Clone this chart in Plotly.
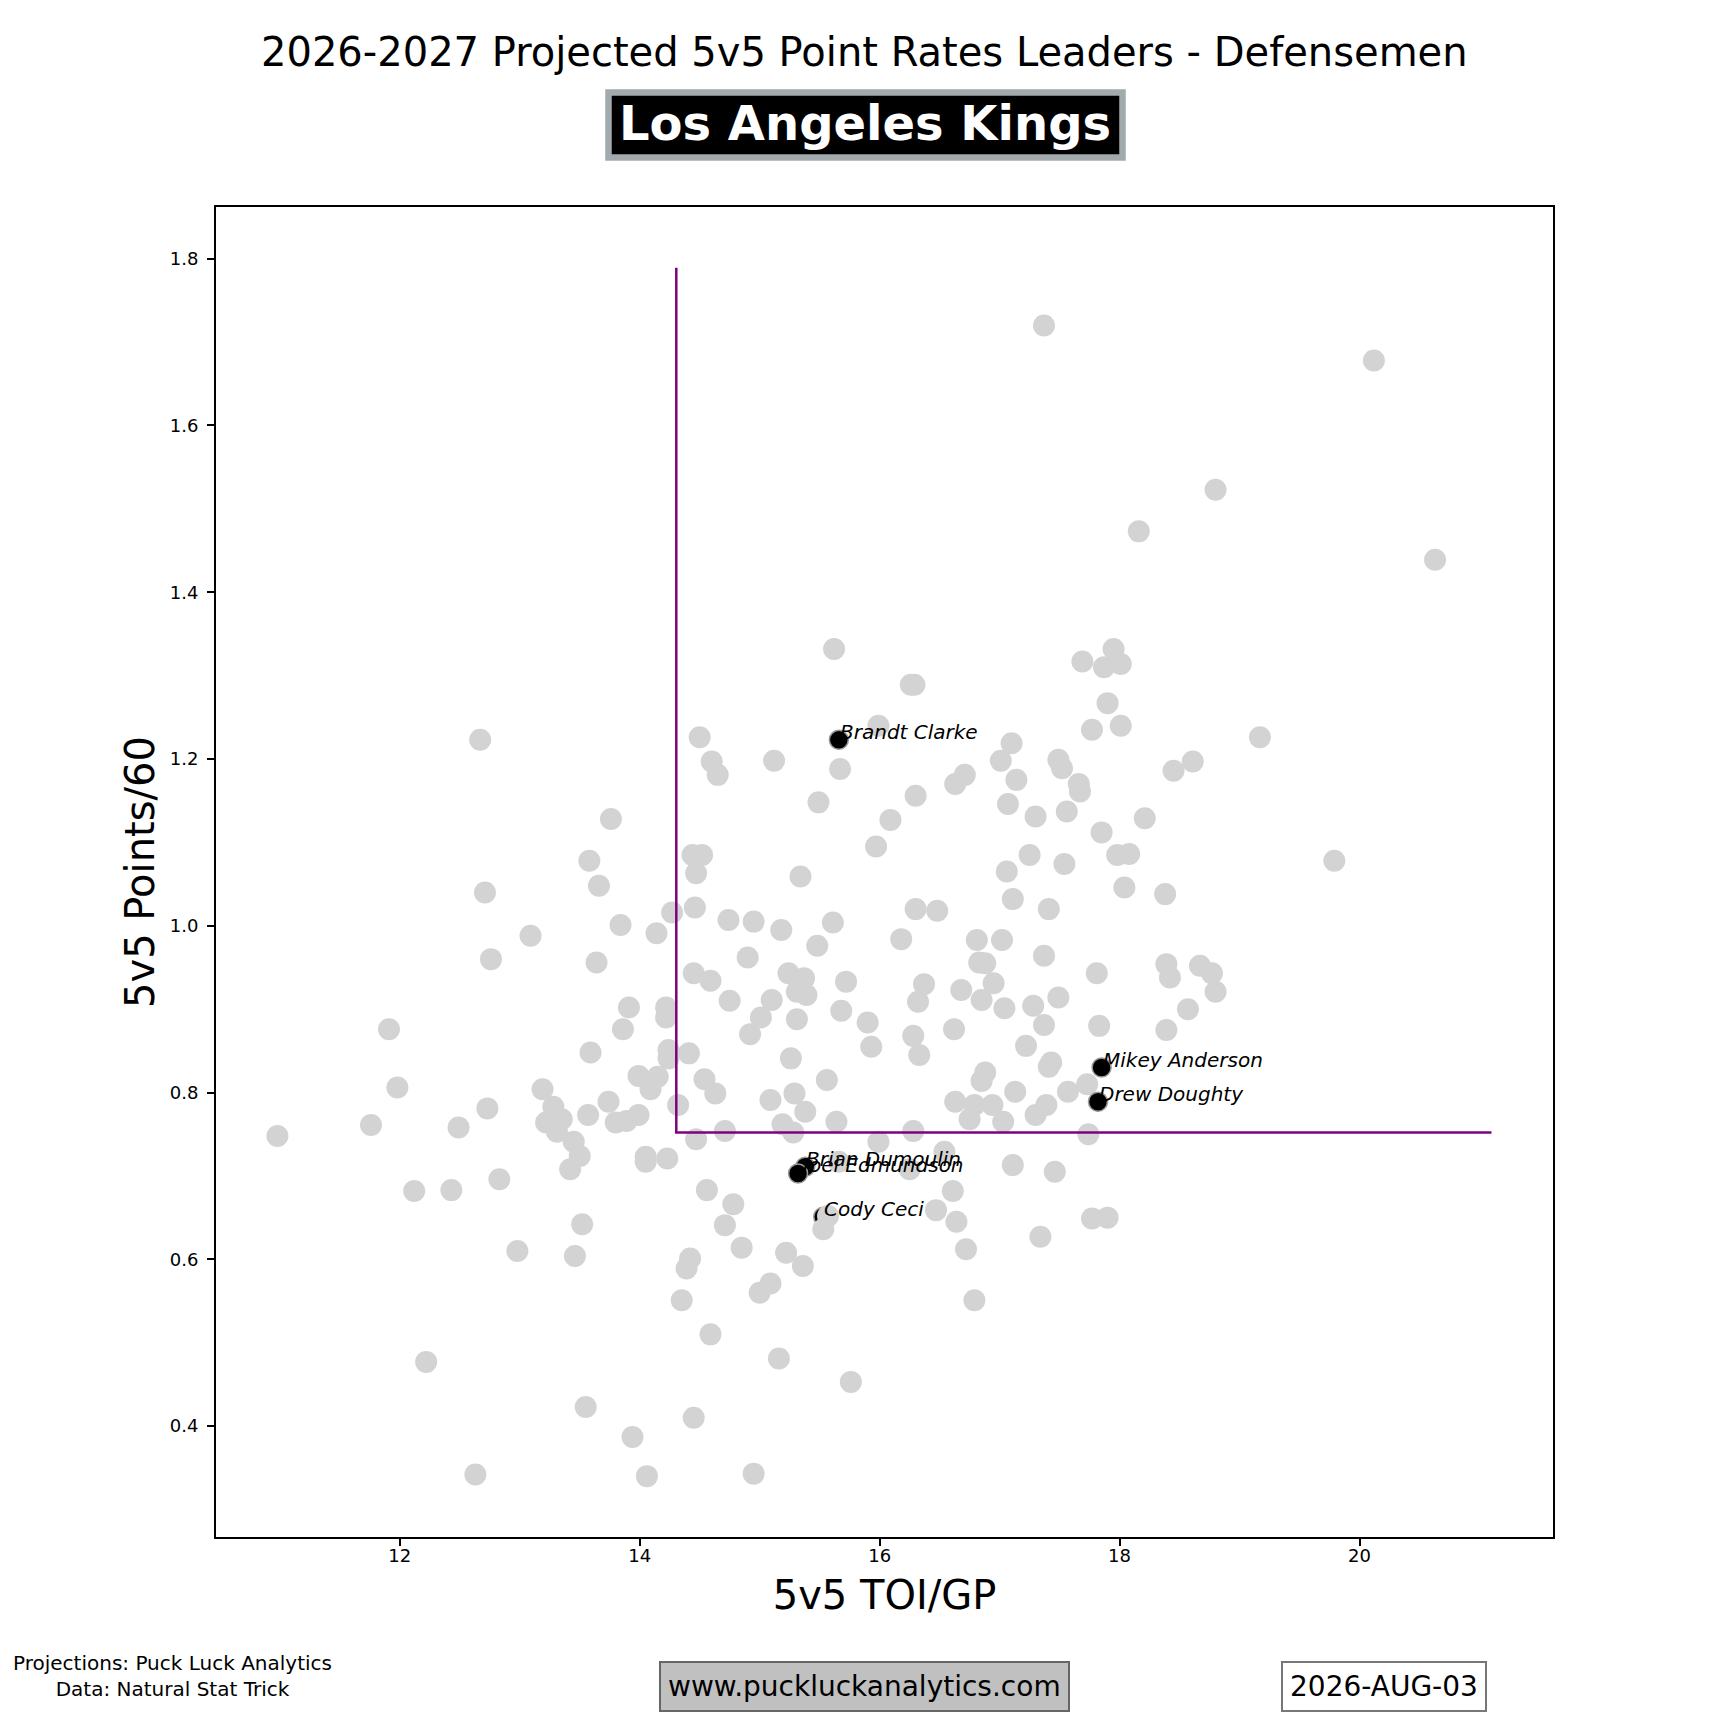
import plotly.graph_objects as go

# ---------------- data ----------------
league_toi = [10.98, 11.76, 11.91, 11.98, 12.12, 12.22, 12.43, 12.49, 12.63, 12.67, 12.71, 12.73, 12.76, 12.83,
              12.98, 13.09, 13.19, 13.22, 13.28, 13.31, 13.35, 13.42, 13.45, 13.46, 13.50, 13.52, 13.55, 13.57,
              13.58, 13.59, 13.64, 13.66, 13.74, 13.76, 13.80, 13.84, 13.86, 13.89, 13.91, 13.94, 13.99, 13.99,
              14.06, 14.05, 14.05, 14.09, 14.14, 14.15, 14.22, 14.22, 14.23, 14.24, 14.24, 14.27, 14.32, 14.35,
              14.39, 14.41, 14.42, 14.44, 14.45, 14.45, 14.46, 14.47, 14.47, 14.50, 14.52, 14.54, 14.56, 14.59,
              14.59, 14.60, 14.63, 14.65, 14.71, 14.71, 14.74, 14.75, 14.78, 14.85, 14.90, 14.92, 14.95, 14.95,
              15.00, 15.01, 15.09, 15.09, 15.10, 15.12, 15.16, 15.18, 15.19, 15.22, 15.24, 15.26, 15.28, 15.29,
              15.31, 15.31, 15.34, 15.36, 15.37, 15.38, 15.39, 15.48, 15.49, 15.57, 15.53, 15.56, 15.61, 15.62,
              15.64, 15.66, 15.67, 15.68, 15.72, 15.76, 15.90, 15.93, 15.97, 15.99, 15.99, 16.09, 16.18, 16.25,
              16.26, 16.29, 16.28, 16.28, 16.30, 16.30, 16.32, 16.33, 16.37, 16.48, 16.47, 16.54, 16.61, 16.62,
              16.63, 16.63, 16.64, 16.68, 16.71, 16.72, 16.75, 16.79, 16.79, 16.81, 16.83, 16.85, 16.85, 16.88,
              16.88, 16.94, 16.95, 17.01, 17.02, 17.03, 17.04, 17.06, 17.07, 17.10, 17.11, 17.11, 17.13, 17.14,
              17.22, 17.25, 17.28, 17.30, 17.30, 17.34, 17.37, 17.37, 17.37, 17.39, 17.41, 17.41, 17.43, 17.46,
              17.49, 17.49, 17.52, 17.54, 17.56, 17.57, 17.66, 17.67, 17.69, 17.73, 17.74, 17.77, 17.77, 17.81,
              17.83, 17.85, 17.87, 17.90, 17.90, 17.95, 17.98, 18.01, 18.01, 18.04, 18.08, 18.16, 18.21, 18.38,
              18.39, 18.39, 18.42, 18.45, 18.57, 18.61, 18.67, 18.77, 18.80, 18.80, 19.17, 19.79, 20.12, 20.63]
league_pts = [0.748, 0.761, 0.876, 0.806, 0.682, 0.477, 0.683, 0.758, 0.342, 1.223, 1.040, 0.781, 0.960, 0.696,
              0.610, 0.988, 0.804, 0.764, 0.783, 0.753, 0.768, 0.708, 0.741, 0.604, 0.724, 0.642, 0.423, 0.773,
              1.078, 0.848, 0.956, 1.048, 0.789, 1.128, 0.764, 1.001, 0.876, 0.766, 0.902, 0.387, 0.773, 0.820,
              0.340, 0.723, 0.717, 0.804, 0.991, 0.819, 0.902, 0.890, 0.721, 0.851, 0.841, 1.016, 0.785, 0.551,
              0.589, 0.847, 0.601, 1.085, 0.410, 0.943, 1.022, 1.063, 0.744, 1.226, 1.085, 0.816, 0.683, 0.934,
              0.510, 1.197, 0.799, 1.181, 0.641, 0.754, 1.007, 0.910, 0.666, 0.614, 0.962, 0.870, 1.005, 0.343,
              0.560, 0.890, 0.571, 0.791, 0.911, 1.198, 0.481, 0.995, 0.762, 0.608, 0.943, 0.841, 0.752, 0.799,
              0.921, 0.888, 1.059, 0.592, 0.937, 0.777, 0.917, 0.976, 1.148, 0.652, 0.636, 0.815, 1.004, 1.332,
              0.765, 0.717, 1.188, 0.898, 0.933, 0.453, 0.884, 0.855, 1.095, 1.240, 0.741, 1.127, 0.984, 0.708,
              1.289, 1.289, 0.868, 0.754, 1.156, 1.020, 0.909, 0.845, 0.930, 1.018, 0.659, 0.729, 0.682, 0.876,
              0.789, 1.170, 0.645, 0.923, 1.181, 0.612, 0.768, 0.551, 0.785, 0.983, 0.956, 0.911, 0.814, 0.955,
              0.824, 0.785, 0.931, 1.198, 0.983, 0.765, 0.901, 1.065, 1.146, 1.219, 0.713, 1.032, 0.801, 1.175,
              0.856, 1.085, 0.904, 1.131, 0.773, 0.627, 1.720, 0.964, 0.881, 0.785, 1.020, 0.831, 0.836, 0.705,
              0.914, 1.199, 1.189, 1.074, 1.137, 0.801, 1.170, 1.161, 1.317, 0.810, 0.750, 1.235, 0.649, 0.943,
              0.880, 1.112, 1.310, 1.267, 0.650, 1.332, 1.085, 1.314, 1.240, 1.046, 1.086, 1.473, 1.129, 1.038,
              0.954, 0.875, 0.938, 1.186, 0.900, 1.197, 0.952, 0.943, 1.523, 0.921, 1.226, 1.078, 1.678, 1.439]

team_players = ["Brandt Clarke", "Mikey Anderson", "Drew Doughty", "Brian Dumoulin", "Joel Edmundson", "Cody Ceci"]
team_toi = [15.66, 17.85, 17.82, 15.38, 15.32, 15.53]
team_pts = [1.223, 0.830, 0.789, 0.711, 0.703, 0.651]
team_layer = ["top", "top", "top", "top", "top", "under"]

toi_threshold = 14.305
pts_threshold = 0.752
line_top = 1.789
line_right = 21.10

x_ticks = [12, 14, 16, 18, 20]
y_ticks = [0.4, 0.6, 0.8, 1.0, 1.2, 1.4, 1.6, 1.8]

title_text = "2026-2027 Projected 5v5 Point Rates Leaders - Defensemen"
team_name = "Los Angeles Kings"
source_text = "Projections: Puck Luck Analytics<br>Data: Natural Stat Trick"
site_text = "www.puckluckanalytics.com"
date_text = "2026-AUG-03"

# ---------------- layout geometry (screenshot pixels) ----------------
W = H = 1728
OFF = 8  # default page body margin shifts the figure by this many pixels
PL, PR, PT, PB = 216, 1553, 207, 1537
FONT = "DejaVu Sans"


def px(x):
    return (x - PL) / (PR - PL)


def py(y):
    return (PB - y) / (PB - PT)


fig = go.Figure()

under_x = [x for x, l in zip(team_toi, team_layer) if l == "under"]
under_y = [y for y, l in zip(team_pts, team_layer) if l == "under"]
top_x = [x for x, l in zip(team_toi, team_layer) if l == "top"]
top_y = [y for y, l in zip(team_pts, team_layer) if l == "top"]

black_marker = dict(size=19, color="black", line=dict(color="#9a9a9a", width=1.5))

fig.add_trace(go.Scatter(x=under_x, y=under_y, mode="markers", marker=black_marker,
                         hoverinfo="skip", showlegend=False))
fig.add_trace(go.Scatter(x=league_toi, y=league_pts, mode="markers",
                         marker=dict(size=22, color="#d3d3d3", line=dict(width=0)),
                         showlegend=False))
fig.add_trace(go.Scatter(x=[toi_threshold, toi_threshold, line_right],
                         y=[line_top, pts_threshold, pts_threshold],
                         mode="lines", line=dict(color="#800080", width=2.5),
                         hoverinfo="skip", showlegend=False))
fig.add_trace(go.Scatter(x=top_x, y=top_y, mode="markers", marker=black_marker,
                         hoverinfo="skip", showlegend=False))

annotations = []
for name, x, y in zip(team_players, team_toi, team_pts):
    annotations.append(dict(x=x, y=y, xref="x", yref="y", text=name, showarrow=False,
                            xanchor="left", yanchor="bottom", yshift=-6, xshift=-1,
                            font=dict(family=FONT, size=20, color="black", style="italic")))

annotations += [
    dict(x=px(864), y=py(52), xref="paper", yref="paper", text=title_text, showarrow=False,
         xanchor="center", yanchor="middle", font=dict(family=FONT, size=40, color="black")),
    dict(x=px(865), y=py(123), xref="paper", yref="paper", text="<b>" + team_name + "</b>",
         showarrow=False, xanchor="center", yanchor="middle",
         font=dict(family=FONT, size=48, color="white")),
    dict(x=px(172), y=py(1676), xref="paper", yref="paper", text=source_text, showarrow=False,
         xanchor="center", yanchor="middle", align="center",
         font=dict(family=FONT, size=20, color="black")),
    dict(x=px(864), y=py(1686), xref="paper", yref="paper", text=site_text, showarrow=False,
         xanchor="center", yanchor="middle",
         font=dict(family=FONT, size=28, color="black"),
         bgcolor="#c0c0c0", bordercolor="#666666", borderwidth=2, borderpad=7),
    dict(x=px(1384), y=py(1686), xref="paper", yref="paper", text=date_text, showarrow=False,
         xanchor="center", yanchor="middle",
         font=dict(family=FONT, size=28, color="black"),
         bgcolor="white", bordercolor="#777777", borderwidth=2, borderpad=7),
]

shapes = [
    dict(type="rect", xref="paper", yref="paper",
         x0=px(608.5), x1=px(1122.5), y0=py(92.5), y1=py(157.5),
         fillcolor="black", line=dict(color="#a2aaad", width=6.5), layer="below"),
]

axis_common = dict(showline=True, mirror=True, linecolor="black", linewidth=1.8,
                   ticks="outside", ticklen=7, tickwidth=1.5, tickcolor="black",
                   showgrid=False, zeroline=False,
                   tickfont=dict(family=FONT, size=18, color="black"))

fig.update_layout(
    width=W, height=H,
    margin=dict(l=PL - OFF, r=W - (PR - OFF), t=PT - OFF, b=H - (PB - OFF)),
    paper_bgcolor="white", plot_bgcolor="white",
    font=dict(family=FONT, color="black"),
    xaxis=dict(range=[10.468, 21.613], tickvals=x_ticks, ticktext=[str(t) for t in x_ticks],
               ticklabelstandoff=-6,
               title=dict(text="5v5 TOI/GP", font=dict(family=FONT, size=40), standoff=16),
               **axis_common),
    yaxis=dict(range=[0.267, 1.862], tickvals=y_ticks, tickformat=".1f",
               ticklabelstandoff=5,
               title=dict(text="5v5 Points/60", font=dict(family=FONT, size=40), standoff=3),
               **axis_common),
    annotations=annotations,
    shapes=shapes,
    showlegend=False,
)

fig.write_html("out.html")
